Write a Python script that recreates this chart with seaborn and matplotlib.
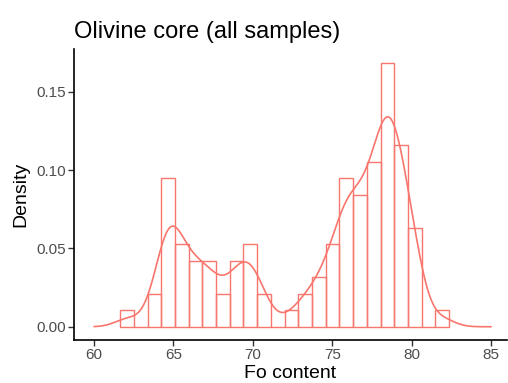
import numpy as np
import pandas as pd
import matplotlib
matplotlib.use("Agg")
import matplotlib.pyplot as plt
import seaborn as sns

# Histogram of Fo content (counts per bin), 24 bins
bin_start = 61.64
bin_end = 82.36
counts = [1, 0, 2, 9, 5, 4, 4, 2, 4, 5, 2, 0, 1, 2, 3, 5, 9, 8, 10, 16, 11, 6, 0, 1]
x_ticks = [60, 65, 70, 75, 80, 85]
y_ticks = [0.00, 0.05, 0.10, 0.15]
title = "Olivine core (all samples)"
xlabel = "Fo content"
ylabel = "Density"

n_bins = len(counts)
width = (bin_end - bin_start) / n_bins
centers = bin_start + width * (np.arange(n_bins) + 0.5)
df = pd.DataFrame({"fo": centers, "n": counts})

sns.set_theme(style="ticks")
plt.rcParams['font.family'] = ['Liberation Sans', 'DejaVu Sans']

color = "#F8766D"
fig = plt.figure(figsize=(5.08, 3.83), dpi=100)
ax = fig.add_axes([0.1457, 0.1123, 0.998 - 0.1457, 0.872 - 0.1123])

sns.histplot(data=df, x="fo", weights="n", bins=n_bins, binrange=(bin_start, bin_end),
             stat="density", fill=False, element="bars", color=color,
             linewidth=1.0, alpha=1.0, ax=ax)
sns.kdeplot(data=df, x="fo", weights="n", bw_method=0.133, clip=(60, 85), cut=30,
            gridsize=512, color=color, linewidth=1.2, ax=ax)

ax.set_xlim(58.74, 86.0)
ax.set_ylim(-0.00845, 0.1773)
ax.set_xticks(x_ticks)
ax.set_xticklabels([str(v) for v in x_ticks])
ax.set_yticks(y_ticks)
ax.set_yticklabels([f"{v:.2f}" for v in y_ticks])
ax.tick_params(axis="both", colors="#333333", labelcolor="#4D4D4D", labelsize=11,
               length=4, width=1, pad=2)
for s in ["top", "right"]:
    ax.spines[s].set_visible(False)
for s in ["left", "bottom"]:
    ax.spines[s].set_color("black")
    ax.spines[s].set_linewidth(1.2)
ax.set_xlabel(xlabel, fontsize=14, color="black", labelpad=2)
ax.set_ylabel(ylabel, fontsize=14, color="black", labelpad=5)
ax.set_title(title, loc="left", fontsize=17, color="black", pad=8)

fig.savefig("out.png", dpi=100)
